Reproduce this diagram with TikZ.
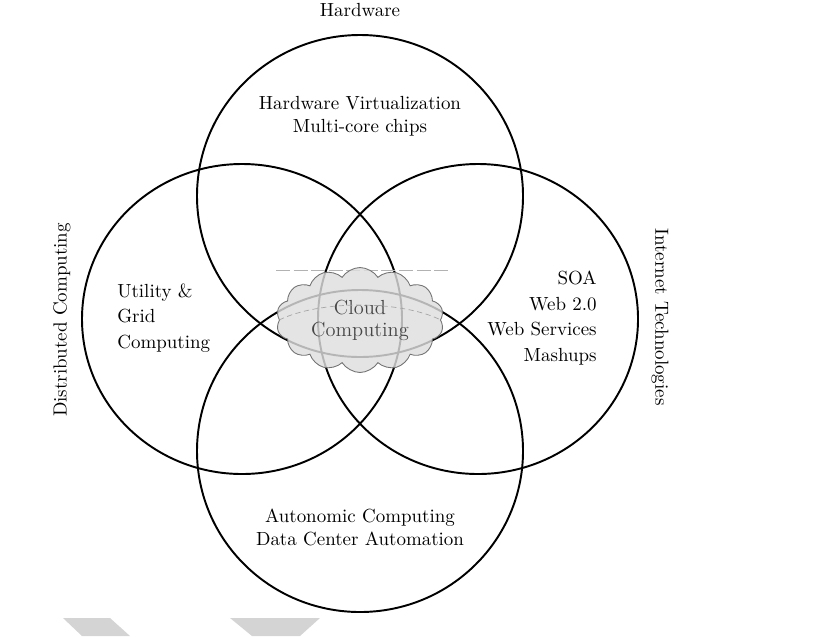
\documentclass[tikz,border=0pt]{standalone}
\usetikzlibrary{shapes.symbols}
\begin{document}
\begin{tikzpicture}[x=0.02cm,y=-0.02cm,
  ring/.style={line width=1.1pt},
  lbl/.style={font=\fontsize{10.8}{13}\selectfont,align=center,inner sep=0pt},
  wide/.style={font=\fontsize{10.8}{14.6}\selectfont}]
\useasboundingbox (0,0) rectangle (837,636);
\fill[black!17] (63,618) -- (110,618) -- (130,636) -- (82,636) -- cycle;
\fill[black!17] (230,618) -- (320,618) -- (300,636) -- (252,636) -- cycle;
\draw[ring] (360,196) ellipse (163 and 161);
\draw[ring] (242,319) ellipse (160 and 155);
\draw[ring] (478,319) ellipse (160 and 155);
\draw[ring] (360,451) ellipse (163 and 161);
\coordinate (faintA) at (276,270);
\coordinate (faintB) at (450,270);
\draw[black!30, dash pattern=on 8pt off 2pt] (faintA) -- (faintB);
\node[cloud, cloud puffs=14, cloud puff arc=115, aspect=1.6, draw=black!55, line width=0.5pt,
  fill=black!13, fill opacity=0.82, text opacity=1, text=black!72,
  minimum width=3.35cm, minimum height=2.1cm, inner sep=0pt,
  font=\fontsize{11.6}{12.5}\selectfont, align=center] (cloud) at (360,320) {Cloud\\Computing};
\draw[black!35, densely dashed, line width=0.4pt] (cloud.west) .. controls (320,300) and (400,300) .. (cloud.east);
\node[lbl] (hw) at (360,10) {Hardware};
\node[lbl] (hwin) at (360,116) {Hardware Virtualization\\Multi-core chips};
\node[lbl, wide, align=left, anchor=west] (dcin) at (117,318) {Utility \&\\Grid\\Computing};
\node[lbl, wide, align=right, anchor=east] (itin) at (597,318) {SOA\\Web 2.0\\Web Services\\Mashups};
\node[lbl] (acin) at (360,527) {Autonomic Computing\\Data Center Automation};
\node[lbl, rotate=90] (dc) at (62,320) {Distributed Computing};
\node[lbl, rotate=-90] (it) at (660,317) {Internet Technologies};
\end{tikzpicture}
\end{document}
